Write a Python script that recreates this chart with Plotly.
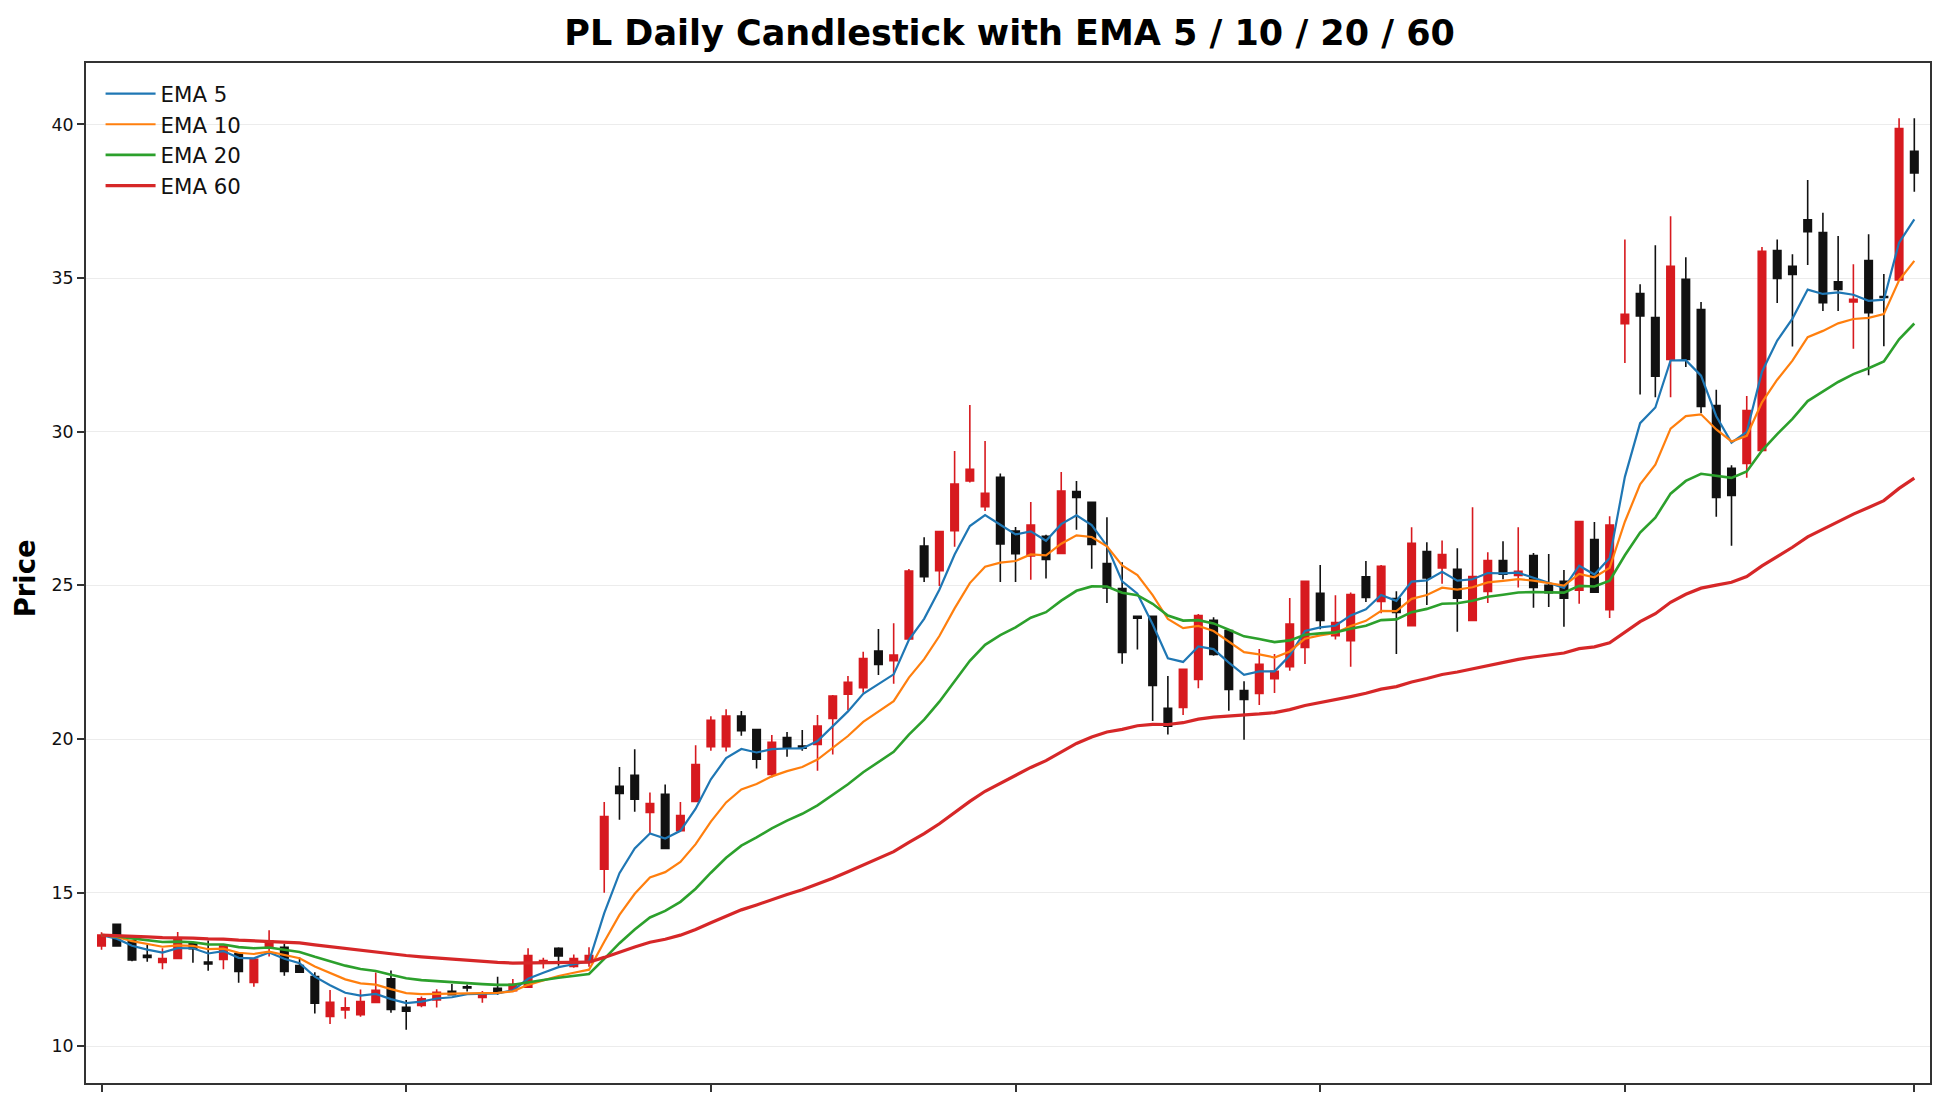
import pandas as pd
import plotly.graph_objects as go

# ---- data (index = trading day) ----
opens = [13.27, 13.97, 13.43, 12.96, 12.73, 12.86, 13.36, 12.74, 12.83, 13.02,
         12.08, 13.22, 13.22, 12.63, 12.27, 10.97, 11.18, 11.03, 11.43, 12.20,
         11.27, 11.33, 11.51, 11.79, 11.94, 11.59, 11.89, 11.81, 11.92, 12.73,
         13.19, 12.60, 12.73, 15.76, 18.46, 18.82, 17.61, 18.20, 17.02, 17.97,
         19.75, 19.75, 20.75, 20.31, 18.85, 20.05, 19.77, 19.82, 20.67, 21.46,
         21.67, 22.86, 22.55, 23.26, 26.28, 25.48, 26.78, 28.40, 27.56, 28.52,
         26.77, 25.96, 26.60, 26.04, 28.05, 27.70, 25.71, 24.90, 23.99, 23.99,
         21.00, 21.03, 21.94, 23.86, 23.53, 21.58, 21.48, 21.96, 22.35, 22.98,
         24.74, 23.36, 23.20, 25.28, 24.48, 24.57, 23.69, 26.10, 25.57, 25.52,
         23.86, 24.80, 25.81, 25.32, 25.97, 25.00, 25.13, 24.84, 26.49, 24.21,
         33.52, 34.50, 33.72, 32.35, 34.96, 33.98, 30.85, 28.81, 28.97, 29.39,
         35.90, 35.38, 36.90, 36.48, 34.88, 34.22, 35.57, 34.40, 34.94, 39.13]
highs = [13.71, 13.99, 13.43, 13.30, 13.19, 13.72, 13.36, 13.44, 13.26, 13.02,
         12.83, 13.78, 13.34, 12.89, 12.41, 11.83, 11.60, 11.85, 12.40, 12.47,
         11.51, 11.62, 11.86, 12.03, 12.01, 11.80, 12.26, 12.19, 13.19, 12.88,
         13.22, 12.99, 13.22, 17.95, 19.09, 19.67, 18.26, 18.52, 17.95, 19.80,
         20.74, 20.97, 20.91, 20.31, 20.13, 20.23, 20.29, 20.78, 21.43, 22.05,
         22.84, 23.58, 23.77, 25.53, 26.57, 26.77, 29.37, 30.87, 29.70, 28.64,
         26.90, 27.71, 26.65, 28.69, 28.40, 27.70, 27.22, 25.75, 23.99, 23.99,
         22.05, 22.27, 24.07, 23.96, 23.53, 21.88, 22.93, 22.77, 24.59, 25.13,
         25.66, 24.68, 24.77, 25.79, 25.66, 24.81, 26.89, 26.40, 26.46, 26.21,
         27.54, 26.08, 26.44, 26.89, 26.05, 26.02, 25.50, 27.08, 27.06, 27.25,
         36.26, 34.80, 36.07, 37.01, 35.68, 34.22, 31.37, 28.91, 31.16, 36.01,
         36.26, 35.78, 38.19, 37.13, 36.37, 35.45, 36.43, 35.13, 40.20, 40.20]
lows = [13.14, 13.25, 12.77, 12.75, 12.51, 12.86, 12.72, 12.46, 12.51, 12.07,
        11.94, 12.92, 12.30, 12.41, 11.07, 10.73, 10.90, 10.96, 11.43, 11.09,
        10.54, 11.27, 11.26, 11.65, 11.78, 11.42, 11.68, 11.81, 11.92, 12.53,
        12.62, 12.56, 12.59, 15.00, 17.37, 17.63, 16.93, 16.44, 17.02, 17.97,
        19.62, 19.59, 20.11, 19.04, 18.75, 19.42, 19.62, 18.97, 19.50, 20.94,
        21.51, 22.08, 21.80, 23.26, 25.11, 24.98, 26.26, 28.35, 27.42, 25.11,
        25.11, 25.18, 25.22, 26.04, 26.81, 25.54, 24.43, 22.45, 22.91, 20.59,
        20.15, 20.78, 21.65, 22.71, 20.92, 19.98, 21.11, 21.50, 22.22, 22.44,
        23.57, 23.24, 22.35, 24.46, 24.09, 22.77, 23.69, 24.36, 25.05, 23.49,
        23.86, 24.43, 25.20, 24.93, 24.27, 24.30, 23.65, 24.40, 24.78, 23.94,
        32.24, 31.21, 31.12, 31.12, 32.11, 30.61, 27.23, 26.29, 28.50, 29.39,
        34.19, 32.77, 35.43, 33.93, 33.93, 32.70, 31.84, 32.78, 34.94, 37.81]
closes = [13.62, 13.27, 12.81, 12.89, 12.86, 13.49, 13.18, 12.68, 13.26, 12.44,
          12.83, 13.43, 12.44, 12.41, 11.40, 11.43, 11.25, 11.46, 11.82, 11.20,
          11.14, 11.55, 11.76, 11.68, 11.90, 11.72, 11.75, 12.02, 12.95, 12.79,
          12.94, 12.86, 12.95, 17.48, 18.23, 18.04, 17.90, 16.44, 17.51, 19.17,
          20.61, 20.75, 20.27, 19.34, 19.89, 19.73, 19.70, 20.42, 21.40, 21.85,
          22.62, 22.43, 22.73, 25.47, 25.28, 26.75, 28.30, 28.78, 28.00, 26.35,
          26.03, 26.96, 25.84, 28.07, 27.86, 26.33, 24.92, 22.82, 23.93, 21.74,
          20.42, 22.27, 24.02, 22.75, 21.61, 21.29, 22.43, 22.20, 23.74, 25.13,
          23.86, 23.79, 24.70, 24.61, 25.62, 24.12, 26.37, 25.24, 26.00, 24.58,
          25.29, 25.81, 25.36, 25.46, 24.93, 24.76, 24.58, 27.08, 24.78, 26.96,
          33.82, 33.77, 31.81, 35.38, 32.35, 30.82, 27.86, 27.93, 30.69, 35.87,
          34.99, 35.12, 36.51, 34.20, 34.63, 34.31, 33.87, 34.37, 39.87, 38.42]
days = list(range(len(closes)))

ema_spans = [5, 10, 20, 60]
ema_colors = ["#1f77b4", "#ff7f0e", "#2ca02c", "#d62728"]
ema_widths = [2.2, 2.2, 2.6, 3.2]

x_tickvals = [0, 20, 40, 60, 80, 100, 119]
y_tickvals = [10, 15, 20, 25, 30, 35, 40]

FONT = "DejaVu Sans"
W, H = 1930, 1090   # page body has an 8px margin
ML, MR, MT, MB = 78, 6, 55, 15
PW, PH = W - ML - MR, H - MT - MB

fig = go.Figure()

close_s = pd.Series(closes)
for span, col, w in zip(ema_spans, ema_colors, ema_widths):
    ema = close_s.ewm(span=span, adjust=False).mean()
    fig.add_trace(go.Scatter(x=days, y=ema.tolist(), mode="lines",
                             name=f"EMA {span}",
                             line=dict(color=col, width=w)))

fig.add_trace(go.Candlestick(
    x=days, open=opens, high=highs, low=lows, close=closes,
    increasing=dict(line=dict(color="#d71a1f", width=1.6), fillcolor="#d71a1f"),
    decreasing=dict(line=dict(color="#111111", width=1.6), fillcolor="#111111"),
    whiskerwidth=0, showlegend=False, name="PL"))

fig.update_layout(
    width=W, height=H,
    margin=dict(l=ML, r=MR, t=MT, b=MB),
    paper_bgcolor="white", plot_bgcolor="white",
    font=dict(family=FONT, color="#111111"),
    title=dict(text="PL Daily Candlestick with EMA 5 / 10 / 20 / 60",
               x=1001.6 / W, xanchor="center", xref="container",
               y=1 - 24.5 / H, yanchor="middle", yref="container",
               font=dict(family=FONT, size=35, weight="bold", color="#000000")),
    legend=dict(x=0.0079, y=0.990, xanchor="left", yanchor="top",
                bgcolor="rgba(255,255,255,0)", borderwidth=0,
                font=dict(family=FONT, size=21.3, color="#111111"),
                itemwidth=50, tracegroupgap=0),
    showlegend=True,
    annotations=[dict(text="Price", textangle=-90,
                      xref="paper", yref="paper",
                      x=(16.8 - ML) / PW, y=1 - (570.5 - MT) / PH,
                      xanchor="center", yanchor="middle", showarrow=False,
                      font=dict(family=FONT, size=27.5, weight="bold",
                                color="#000000"))],
)

fig.update_xaxes(
    range=[-1.02, 120.03], rangeslider=dict(visible=False),
    tickmode="array", tickvals=x_tickvals, showticklabels=False,
    ticks="outside", ticklen=7, tickwidth=1.6, tickcolor="#333333",
    showgrid=False, zeroline=False,
    showline=True, linecolor="#333333", linewidth=1.8, mirror=True)

fig.update_yaxes(
    range=[8.806, 42.0], tickmode="array", tickvals=y_tickvals,
    ticks="outside", ticklen=7, tickwidth=1.6, tickcolor="#333333",
    tickfont=dict(family=FONT, size=17.4, color="#111111"),
    showgrid=True, gridcolor="#ececec", gridwidth=1.2, zeroline=False,
    showline=True, linecolor="#333333", linewidth=1.8, mirror=True)

fig.write_html("out.html")
